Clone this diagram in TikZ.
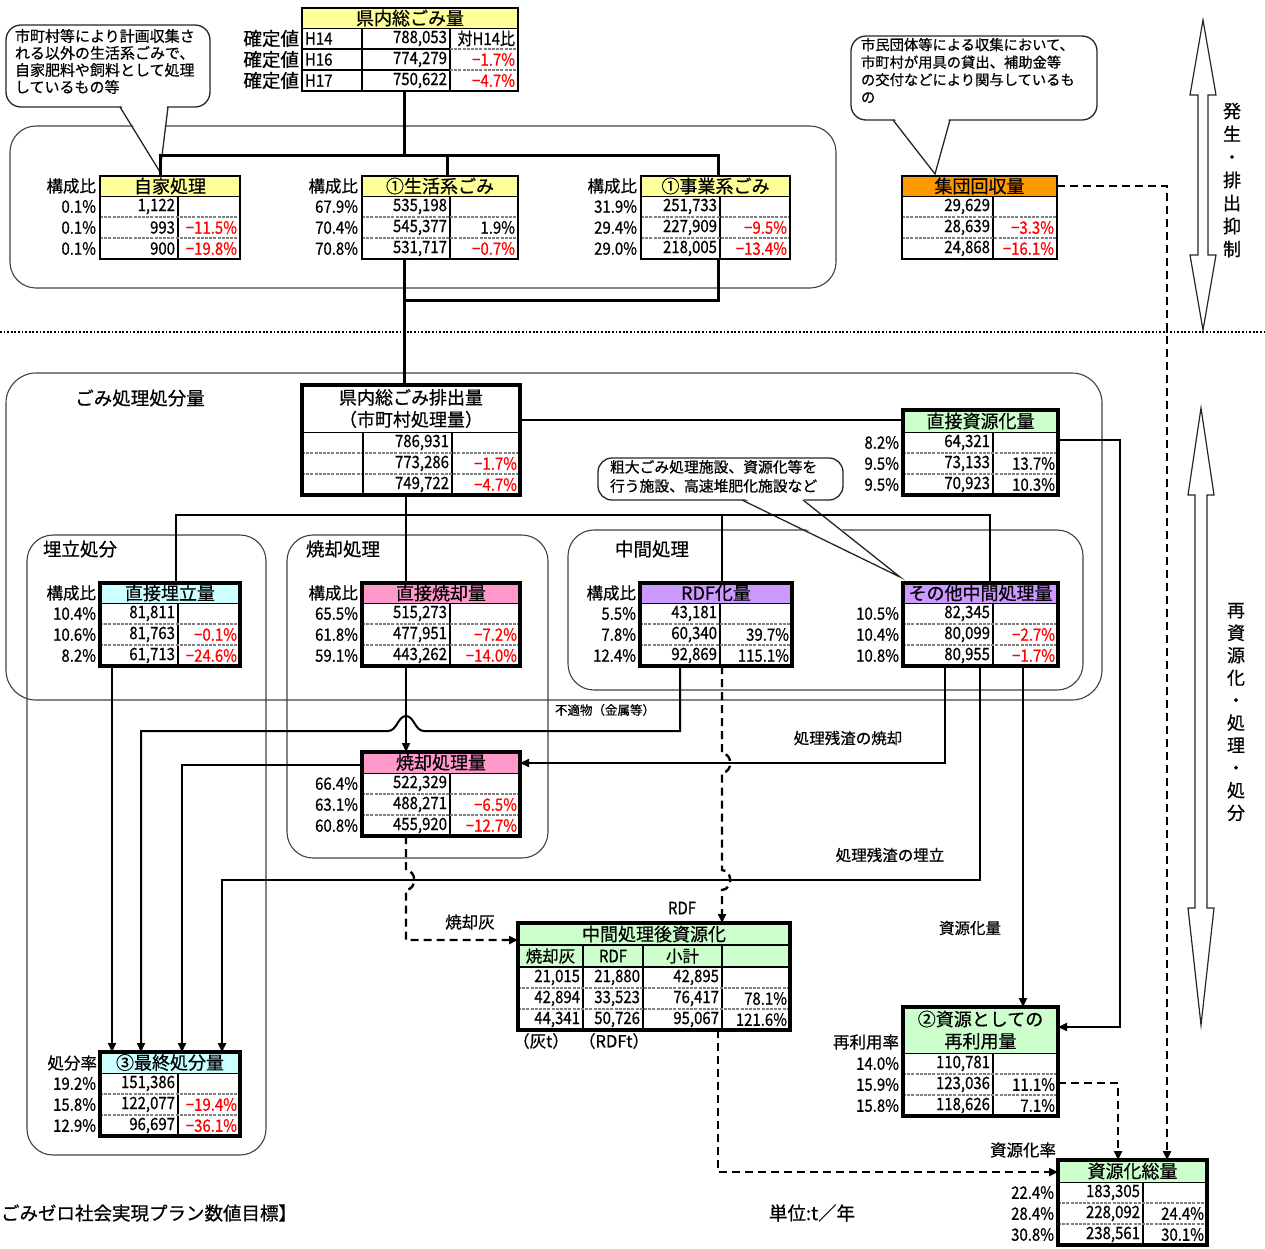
\documentclass[tikz,border=0pt]{standalone}
\usepackage{fontspec}
\setmainfont{Noto Sans CJK JP}[FakeBold=0.6]
\newfontfamily\numf{Noto Sans CJK JP}[FakeStretch=0.88,FakeBold=0.6]
\usetikzlibrary{arrows.meta,calc}
\definecolor{hy}{HTML}{FFFF99}
\definecolor{ho}{HTML}{FF9900}
\definecolor{hc}{HTML}{CCFFFF}
\definecolor{hp}{HTML}{FF99CC}
\definecolor{hv}{HTML}{CC99FF}
\definecolor{hg}{HTML}{CCFFCC}
\definecolor{redc}{HTML}{FF0000}
\definecolor{sepg}{HTML}{808080}
\tikzset{
  every node/.style={inner sep=0pt,outer sep=0pt},
  nm/.style={font=\numf\fontsize{17}{19}\selectfont},
  hd/.style={font=\fontsize{18}{22}\selectfont,align=center},
  jp/.style={font=\fontsize{15.5}{18}\selectfont},
  jl/.style={font=\fontsize{16.5}{19}\selectfont},
  lbl/.style={font=\fontsize{18.5}{21}\selectfont},
  rsep/.style={draw=sepg,line width=1.6pt,dash pattern=on 3pt off 1.2pt},
  conn/.style={line width=2pt},
  connT/.style={line width=3pt},
  arw/.style={-{Triangle[length=9pt,width=8pt]}},
  dsh/.style={line width=2.4pt,dash pattern=on 8pt off 5pt},
  rbox/.style={draw=black!75,line width=1.1pt,rounded corners=26pt},
  co/.style={draw=black!85,line width=1.3pt},
  cotxt/.style={anchor=north west,align=left,font=\fontsize{15}{17}\selectfont},
  bigarrow/.style={draw=black!85,line width=1.2pt,fill=white},
}
\newcommand\rd[1]{\textcolor{redc}{#1}}
% name, x0, y0, x1, xsplit, header colour, title, header height, border width
\newcommand\tabstd[9]{%
  \fill[#6] (#2,#3) rectangle (#4,#3+#8);
  \node[hd] at ({(#2+#4)/2},{#3+#8/2}) {#7};
  \draw[line width=1pt] (#2,#3+#8) -- (#4,#3+#8);
  \draw[line width=1.2pt] (#5,#3+#8) -- (#5,#3+#8+63);
  \draw[rsep] (#2,#3+#8+21) -- (#4,#3+#8+21);
  \draw[rsep] (#2,#3+#8+42) -- (#4,#3+#8+42);
  \node[draw,line width=#9,anchor=north west,minimum width={(#4-#2)*1pt},minimum height={(#8+63)*1pt}] (#1) at (#2,#3) {};
}
% xsplit, x1, y, value, change
\newcommand\rv[5]{\node[nm,anchor=east] at (#1-3,#3) {#4}; \node[nm,anchor=east] at (#2-3,#3) {#5};}
\newcommand\lb[3]{\node[nm,anchor=east] at (#1,#2) {#3};}
\newcommand\lbj[3]{\node[jl,anchor=east] at (#1,#2) {#3};}

\begin{document}
\begin{tikzpicture}[x=1pt,y=-1pt]
\useasboundingbox (0,0) rectangle (1265,1248);

% ---------- region boxes ----------
\draw[rbox] (10,126) rectangle (836,288);
\draw[rbox,rounded corners=30pt] (6,373) rectangle (1102,700);
\draw[rbox] (27,535) rectangle (266,1155);
\draw[rbox] (287,535) rectangle (548,858);
\draw[rbox] (568,530) rectangle (1083,690);
\draw[line width=1.8pt,dash pattern=on 1.8pt off 1.8pt] (0,332) -- (1265,332);

\node[lbl] (lgomi) at (140,398) {ごみ処理処分量};
\node[lbl] (lume) at (80,549) {埋立処分};
\node[lbl] (lsho) at (343,549) {焼却処理};
\node[lbl] (lchu) at (652,549) {中間処理};

% ---------- callouts ----------
\draw[co,fill=white,rounded corners=15pt] (6,25) rectangle (210,107);
\fill[white] (121,105) -- (160,171) -- (167,105) -- cycle;
\draw[co] (120,107) -- (160,172) -- (168,107);
\node[cotxt] (c1) at (15,29) {市町村等により計画収集さ\\れる以外の生活系ごみで、\\自家肥料や飼料として処理\\しているもの等};

\draw[co,fill=white,rounded corners=15pt] (851,36) rectangle (1097,120);
\fill[white] (894,118) -- (935,172) -- (949,118) -- cycle;
\draw[co] (893,120) -- (935,174) -- (950,120);
\node[cotxt,font=\fontsize{14.3}{17.5}\selectfont] (c2) at (861,38) {市民団体等による収集において、\\市町村が用具の貸出、補助金等\\の交付などにより関与しているも\\の};

\draw[co,fill=white,rounded corners=14pt] (598,458) rectangle (843,500);
\fill[white] (743,498) -- (899,575) -- (802,498) -- cycle;
\draw[co] (742,500) -- (900,577) -- (803,500);
\node[cotxt,font=\fontsize{14.8}{19}\selectfont] (c3) at (610,460) {粗大ごみ処理施設、資源化等を\\行う施設、高速堆肥化施設など};

% ---------- big double arrows ----------
\draw[bigarrow] (1203,20) -- (1216,95) -- (1208,95) -- (1208,255) -- (1216,255) -- (1203,330) -- (1190,255) -- (1198,255) -- (1198,95) -- (1190,95) -- cycle;
\draw[bigarrow] (1201,408) -- (1214,495) -- (1207,495) -- (1207,908) -- (1214,908) -- (1201,1025) -- (1188,908) -- (1195,908) -- (1195,495) -- (1188,495) -- cycle;
\node[font=\fontsize{18}{23}\selectfont,align=center] (v1lab) at (1232,180) {発\\生\\・\\排\\出\\抑\\制};
\node[font=\fontsize{18}{22.5}\selectfont,align=center] (v2lab) at (1236,712) {再\\資\\源\\化\\・\\処\\理\\・\\処\\分};

% ---------- top table ----------
\fill[hy] (302,8) rectangle (518,28);
\node[hd] at (410,18) {県内総ごみ量};
\draw[line width=1pt] (302,28) -- (518,28);
\draw[line width=1.2pt] (362,28) -- (362,91) (450,28) -- (450,91);
\draw[line width=1.2pt] (302,49) -- (450,49) (302,70) -- (450,70);
\draw[rsep] (450,49) -- (518,49) (450,70) -- (518,70);
\node[draw,line width=2pt,anchor=north west,minimum width=216pt,minimum height=83pt] (ttotal) at (302,8) {};
\node[nm,anchor=west] at (305,38.5) {H14};
\node[nm,anchor=west] at (305,59.5) {H16};
\node[nm,anchor=west] at (305,80.5) {H17};
\rv{450}{518}{38.5}{788,053}{対H14比}
\rv{450}{518}{59.5}{774,279}{\rd{−1.7\%}}
\rv{450}{518}{80.5}{750,622}{\rd{−4.7\%}}
\node[lbl,anchor=east] at (299,38.5) {確定値};
\node[lbl,anchor=east] at (299,59.5) {確定値};
\node[lbl,anchor=east] at (299,80.5) {確定値};

% ---------- generation tables ----------
\tabstd{jika}{100}{176}{240}{178}{hy}{自家処理}{20}{2pt}
\lbj{96}{186}{構成比}
\lb{96}{206.5}{0.1\%}\lb{96}{227.5}{0.1\%}\lb{96}{248.5}{0.1\%}
\rv{178}{240}{206.5}{1,122}{}
\rv{178}{240}{227.5}{993}{\rd{−11.5\%}}
\rv{178}{240}{248.5}{900}{\rd{−19.8\%}}

\tabstd{seikatsu}{362}{176}{518}{450}{hy}{①生活系ごみ}{20}{2pt}
\lbj{358}{186}{構成比}
\lb{358}{206.5}{67.9\%}\lb{358}{227.5}{70.4\%}\lb{358}{248.5}{70.8\%}
\rv{450}{518}{206.5}{535,198}{}
\rv{450}{518}{227.5}{545,377}{1.9\%}
\rv{450}{518}{248.5}{531,717}{\rd{−0.7\%}}

\tabstd{jigyo}{641}{176}{790}{720}{hy}{①事業系ごみ}{20}{2pt}
\lbj{637}{186}{構成比}
\lb{637}{206.5}{31.9\%}\lb{637}{227.5}{29.4\%}\lb{637}{248.5}{29.0\%}
\rv{720}{790}{206.5}{251,733}{}
\rv{720}{790}{227.5}{227,909}{\rd{−9.5\%}}
\rv{720}{790}{248.5}{218,005}{\rd{−13.4\%}}

\tabstd{shudan}{902}{176}{1057}{993}{ho}{集団回収量}{20}{2pt}
\rv{993}{1057}{206.5}{29,629}{}
\rv{993}{1057}{227.5}{28,639}{\rd{−3.3\%}}
\rv{993}{1057}{248.5}{24,868}{\rd{−16.1\%}}

% ---------- processing tables ----------
\tabstd{haishutsu}{302}{385}{520}{452}{white}{県内総ごみ排出量\\（市町村処理量）}{47}{3.5pt}
\draw[line width=1.2pt] (363,432) -- (363,495);
\rv{452}{520}{442.5}{786,931}{}
\rv{452}{520}{463.5}{773,286}{\rd{−1.7\%}}
\rv{452}{520}{484.5}{749,722}{\rd{−4.7\%}}

\tabstd{chokushi}{903}{410}{1058}{993}{hg}{直接資源化量}{22}{3.5pt}
\lb{899}{442.5}{8.2\%}\lb{899}{463.5}{9.5\%}\lb{899}{484.5}{9.5\%}
\rv{993}{1058}{442.5}{64,321}{}
\rv{993}{1058}{463.5}{73,133}{13.7\%}
\rv{993}{1058}{484.5}{70,923}{10.3\%}

\tabstd{umetate}{100}{583}{240}{178}{hc}{直接埋立量}{20}{3.5pt}
\lbj{96}{593}{構成比}
\lb{96}{613.5}{10.4\%}\lb{96}{634.5}{10.6\%}\lb{96}{655.5}{8.2\%}
\rv{178}{240}{613.5}{81,811}{}
\rv{178}{240}{634.5}{81,763}{\rd{−0.1\%}}
\rv{178}{240}{655.5}{61,713}{\rd{−24.6\%}}

\tabstd{chokkyaku}{362}{583}{520}{450}{hp}{直接焼却量}{20}{3.5pt}
\lbj{358}{593}{構成比}
\lb{358}{613.5}{65.5\%}\lb{358}{634.5}{61.8\%}\lb{358}{655.5}{59.1\%}
\rv{450}{520}{613.5}{515,273}{}
\rv{450}{520}{634.5}{477,951}{\rd{−7.2\%}}
\rv{450}{520}{655.5}{443,262}{\rd{−14.0\%}}

\tabstd{rdf}{640}{583}{792}{720}{hv}{RDF化量}{20}{3.5pt}
\lbj{636}{593}{構成比}
\lb{636}{613.5}{5.5\%}\lb{636}{634.5}{7.8\%}\lb{636}{655.5}{12.4\%}
\rv{720}{792}{613.5}{43,181}{}
\rv{720}{792}{634.5}{60,340}{39.7\%}
\rv{720}{792}{655.5}{92,869}{115.1\%}

\tabstd{sonota}{903}{583}{1058}{993}{hv}{その他中間処理量}{20}{3.5pt}
\lb{899}{613.5}{10.5\%}\lb{899}{634.5}{10.4\%}\lb{899}{655.5}{10.8\%}
\rv{993}{1058}{613.5}{82,345}{}
\rv{993}{1058}{634.5}{80,099}{\rd{−2.7\%}}
\rv{993}{1058}{655.5}{80,955}{\rd{−1.7\%}}

\tabstd{shokyaku}{362}{752}{520}{450}{hp}{焼却処理量}{21}{3.5pt}
\lb{358}{783.5}{66.4\%}\lb{358}{804.5}{63.1\%}\lb{358}{825.5}{60.8\%}
\rv{450}{520}{783.5}{522,329}{}
\rv{450}{520}{804.5}{488,271}{\rd{−6.5\%}}
\rv{450}{520}{825.5}{455,920}{\rd{−12.7\%}}

\tabstd{saishu}{100}{1052}{240}{178}{hc}{③最終処分量}{21}{3.5pt}
\lbj{97}{1063}{処分率}
\lb{96}{1083.5}{19.2\%}\lb{96}{1104.5}{15.8\%}\lb{96}{1125.5}{12.9\%}
\rv{178}{240}{1083.5}{151,386}{}
\rv{178}{240}{1104.5}{122,077}{\rd{−19.4\%}}
\rv{178}{240}{1125.5}{96,697}{\rd{−36.1\%}}

\tabstd{saiyo}{903}{1007}{1058}{993}{hg}{②資源としての\\再利用量}{46}{3.5pt}
\lbj{899}{1042}{再利用率}
\lb{899}{1063.5}{14.0\%}\lb{899}{1084.5}{15.9\%}\lb{899}{1105.5}{15.8\%}
\rv{993}{1058}{1063.5}{110,781}{}
\rv{993}{1058}{1084.5}{123,036}{11.1\%}
\rv{993}{1058}{1105.5}{118,626}{7.1\%}

\tabstd{soryo}{1058}{1160}{1207}{1143}{hg}{資源化総量}{22}{3.5pt}
\lbj{1056}{1150}{資源化率}
\lb{1054}{1192.5}{22.4\%}\lb{1054}{1213.5}{28.4\%}\lb{1054}{1234.5}{30.8\%}
\rv{1143}{1207}{1192.5}{183,305}{}
\rv{1143}{1207}{1213.5}{228,092}{24.4\%}
\rv{1143}{1207}{1234.5}{238,561}{30.1\%}

% 中間処理後資源化
\fill[hg] (518,923) rectangle (790,967);
\node[hd] at (654,934) {中間処理後資源化};
\draw[line width=1.5pt] (518,945) -- (790,945) (518,967) -- (790,967);
\draw[line width=1.2pt] (583,945) -- (583,1030) (643,945) -- (643,1030) (722,945) -- (722,1030);
\draw[rsep] (518,988) -- (790,988) (518,1009) -- (790,1009);
\node[draw,line width=3.5pt,anchor=north west,minimum width=272pt,minimum height=107pt] (chukan) at (518,923) {};
\node[jl] at (550.5,956) {焼却灰};
\node[nm] at (613,956) {RDF};
\node[jl] at (682.5,956) {小計};
\node[nm,anchor=east] at (580,977.5) {21,015};
\node[nm,anchor=east] at (640,977.5) {21,880};
\node[nm,anchor=east] at (719,977.5) {42,895};
\node[nm,anchor=east] at (580,998.5) {42,894};
\node[nm,anchor=east] at (640,998.5) {33,523};
\node[nm,anchor=east] at (719,998.5) {76,417};
\node[nm,anchor=east] at (787,998.5) {78.1\%};
\node[nm,anchor=east] at (580,1019.5) {44,341};
\node[nm,anchor=east] at (640,1019.5) {50,726};
\node[nm,anchor=east] at (719,1019.5) {95,067};
\node[nm,anchor=east] at (787,1019.5) {121.6\%};
\node[jl] (uhai) at (541,1041) {（灰t）};
\node[jl] (urdf) at (614,1041) {（RDFt）};

% ---------- connectors: top ----------
\coordinate (jt) at (404,155);
\coordinate (jL) at (160,155);
\coordinate (jM) at (447,155);
\coordinate (jR) at (718,155);
\coordinate (jb) at (404,300);
\coordinate (jbR) at (718,300);
\draw[connT] (ttotal.south -| jt) -- (jt);
\draw[connT] (jL |- jika.north) -- (jL) -- (jR) -- (jR |- jigyo.north);
\draw[connT] (jM) -- (jM |- seikatsu.north);
\draw[connT] (seikatsu.south -| jb) -- (jb) -- (jbR) -- (jbR |- jigyo.south);
\draw[connT] (jb) -- (haishutsu.north -| jb);

% ---------- connectors: middle ----------
\coordinate (h1) at (0,420);
\draw[conn] (haishutsu.east |- h1) -- (chokushi.west |- h1);
\coordinate (rA) at (1120,440);
\coordinate (rB) at (1120,1027);
\draw[conn,arw] (chokushi.east |- rA) -- (rA) -- (rB) -- (saiyo.east |- rB);
\coordinate (bL) at (176,515);
\coordinate (bR) at (990,515);
\coordinate (bM) at (722,515);
\draw[conn] (bL |- umetate.north) -- (bL) -- (bR) -- (bR |- sonota.north);
\draw[conn] (bM) -- (bM |- rdf.north);
\coordinate (vc) at (406,0);
\draw[conn] (haishutsu.south -| vc) -- (chokkyaku.north -| vc);
\draw[conn,arw] (chokkyaku.south -| vc) -- (shokyaku.north -| vc);

% 不適物
\coordinate (f1) at (680,731);
\coordinate (f2) at (141,731);
\draw[conn,arw] (rdf.south -| f1) -- (f1) -- (424,731) .. controls (415,731) and (414,716) .. (406,716) .. controls (398,716) and (397,731) .. (388,731) -- (f2) -- (saishu.north -| f2);
\node[font=\fontsize{12.5}{15}\selectfont] (lfut) at (605,710) {不適物（金属等）};

% 処理残渣の焼却
\coordinate (s1) at (945,763);
\draw[conn,arw] (sonota.south -| s1) -- (s1) -- (shokyaku.east |- s1);
\node[jp] (lzs) at (848,738) {処理残渣の焼却};

% 処理残渣の埋立
\coordinate (u1) at (980,880);
\coordinate (u2) at (222,880);
\draw[conn,line width=2.6pt,arw] (sonota.south -| u1) -- (u1) -- (u2) -- (saishu.north -| u2);
\node[jp] (lzu) at (890,855) {処理残渣の埋立};

% 資源化量
\coordinate (k1) at (1023,0);
\draw[conn,arw] (sonota.south -| k1) -- (saiyo.north -| k1);
\node[jp] (lsk) at (970,928) {資源化量};

% 焼却処理量 -> 最終
\coordinate (k2) at (182,765);
\draw[conn,arw] (shokyaku.west |- k2) -- (k2) -- (saishu.north -| k2);
% 直接埋立 -> 最終
\coordinate (k3) at (112,0);
\draw[conn,arw] (umetate.south -| k3) -- (saishu.north -| k3);

% 焼却灰 (dashed)
\coordinate (a1) at (406,940);
\draw[dsh,arw] (shokyaku.south -| a1) -- (406,870) .. controls (417,871) and (417,889) .. (406,890) -- (a1) -- (chukan.west |- a1);
\node[jl] (lash) at (470,922) {焼却灰};

% RDF (dashed)
\coordinate (r1) at (722,0);
\draw[dsh,arw] (rdf.south -| r1) -- (722,753) .. controls (733,754) and (733,772) .. (722,773) -- (722,870) .. controls (733,871) and (733,889) .. (722,890) -- (chukan.north -| r1);
\node[nm] (lrdf) at (682,908) {RDF};

% to 資源化総量 (dashed)
\coordinate (d1) at (718,1172);
\draw[dsh,arw] (chukan.south -| d1) -- (d1) -- (soryo.west |- d1);
\coordinate (d2) at (1118,1083);
\draw[dsh,arw] (saiyo.east |- d2) -- (d2) -- (soryo.north -| d2);
\coordinate (d3) at (1167,186);
\draw[dsh,arw] (shudan.east |- d3) -- (d3) -- (soryo.north -| d3);

% ---------- bottom texts ----------
\node[lbl,anchor=west] (lplan) at (1,1213) {ごみゼロ社会実現プラン数値目標】};
\node[lbl] (lunit) at (812,1213) {単位:t／年};
\end{tikzpicture}
\end{document}
